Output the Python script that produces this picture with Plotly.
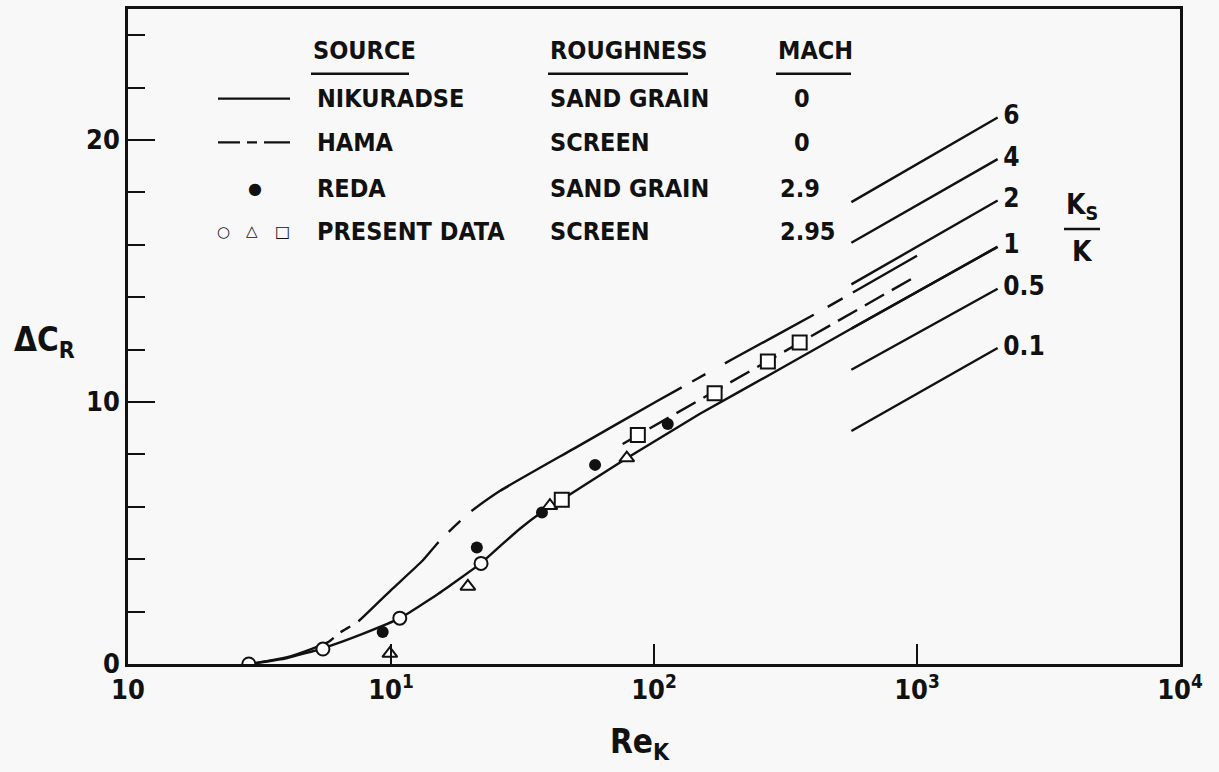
import plotly.graph_objects as go

# ---------------- data ----------------
nik_x = [2.9, 4, 5.5, 7.8, 10.8, 15, 22, 26, 31, 37.5, 45, 79, 149, 300, 555, 2020]
nik_y = [0, 0.22, 0.6, 1.15, 1.75, 2.65, 3.85, 4.5, 5.17, 5.8, 6.3, 7.86, 9.54, 11.25, 12.77, 15.92]

hama_x = [3.0, 4.0, 5.0, 5.8, 6.4, 7.5, 10, 13.2, 15, 17, 20, 26, 50, 102.5, 200, 400, 1000]
hama_y = [0.02, 0.25, 0.58, 0.85, 1.2, 1.62, 2.82, 3.95, 4.6, 5.15, 5.8, 6.61, 8.24, 10.03, 11.65, 13.3, 15.58]

fair_x = [76, 1000]
fair_y = [8.4, 14.82]

circ_x = [2.88, 5.51, 10.8, 22.0]
circ_y = [0, 0.57, 1.75, 3.84]
tri_x = [9.9, 19.6, 40.2, 78.8]
tri_y = [0.4, 2.96, 6.04, 7.86]
sq_x = [44.6, 86.8, 170, 271, 358]
sq_y = [6.27, 8.74, 10.33, 11.55, 12.27]
reda_x = [9.3, 21.2, 37.5, 59.7, 112.8]
reda_y = [1.22, 4.45, 5.78, 7.6, 9.16]

ks_labels = ["6", "4", "2", "1", "0.5", "0.1"]
ks_x = [563, 2026]
ks_y0 = [17.63, 16.08, 14.49, 12.8, 11.23, 8.89]
ks_y1 = [20.86, 19.27, 17.69, 15.92, 14.32, 12.06]

x_tickvals = [1, 10, 100, 1000, 10000]
x_ticktext = ["10", "10<sup>1</sup>", "10<sup>2</sup>", "10<sup>3</sup>", "10<sup>4</sup>"]
y_tickvals = [0, 10, 20]
y_ticktext = ["0", "10", "20"]

leg_headers = ["SOURCE", "ROUGHNESS", "MACH"]
leg_source = ["NIKURADSE", "HAMA", "REDA", "PRESENT DATA"]
leg_rough = ["SAND GRAIN", "SCREEN", "SAND GRAIN", "SCREEN"]
leg_mach = ["0", "0", "2.9", "2.95"]

# ---------------- style ----------------
W, H = 1219, 772
L, R, T, B = 128, 1180, 6, 664
FONT = "DejaVu Sans Condensed, DejaVu Sans, sans-serif"
INK = "#111111"
BG = "#f8f8f8"
LW = 2.4


def px(xp, yp):
    return (xp - L) / (R - L), (B - yp) / (B - T)


fig = go.Figure()

# Nikuradse (solid)
fig.add_trace(go.Scatter(x=nik_x, y=nik_y, mode="lines", name="Nikuradse",
                         line=dict(color=INK, width=LW, shape="spline", smoothing=0.4)))
# Hama (long - short - long)
fig.add_trace(go.Scatter(x=hama_x, y=hama_y, mode="lines", name="Hama",
                         line=dict(color=INK, width=LW, shape="spline", smoothing=0.4,
                                   dash="85px,9px,11px,10px,113px,14px,16px,15px,244px,12px,15px,22px,102px,16px,17px,12px,80px,60px")))
# fairing through present data (short dashes)
fig.add_trace(go.Scatter(x=fair_x, y=fair_y, mode="lines", name="Present data fairing",
                         line=dict(color=INK, width=LW, dash="22px,9px")))
# ks/k lines
for lab, y0, y1 in zip(ks_labels, ks_y0, ks_y1):
    fig.add_trace(go.Scatter(x=ks_x, y=[y0, y1], mode="lines", name="ks/k=" + lab,
                             line=dict(color=INK, width=LW)))
fig.add_trace(go.Scatter(x=[ks_x[1] * 1.05] * len(ks_labels), y=ks_y1, mode="text",
                         text=ks_labels, textposition="middle right",
                         textfont=dict(family=FONT, size=26, color=INK, weight="bold"),
                         name="ks/k labels"))

# markers
fig.add_trace(go.Scatter(x=reda_x, y=reda_y, mode="markers", name="Reda",
                         marker=dict(symbol="circle", size=12, color=INK)))
fig.add_trace(go.Scatter(x=circ_x, y=circ_y, mode="markers", name="Present circles",
                         marker=dict(symbol="circle", size=13, color="white", line=dict(color=INK, width=2))))
fig.add_trace(go.Scatter(x=tri_x, y=tri_y, mode="markers", name="Present triangles",
                         marker=dict(symbol="triangle-up", size=13, color="white", line=dict(color=INK, width=2))))
fig.add_trace(go.Scatter(x=sq_x, y=sq_y, mode="markers", name="Present squares",
                         marker=dict(symbol="square", size=14, color="white", line=dict(color=INK, width=2))))

ann = []
shapes = []


def text(xp, yp, s, size=25, xanchor="left", family=FONT):
    x, y = px(xp, yp)
    ann.append(dict(x=x, y=y, xref="paper", yref="paper", text=s, showarrow=False,
                    xanchor=xanchor, yanchor="middle",
                    font=dict(family=family, size=size, color=INK, weight="bold")))


def hline(x0p, x1p, yp, dash="solid", width=LW):
    x0, y = px(x0p, yp)
    x1, _ = px(x1p, yp)
    shapes.append(dict(type="line", xref="paper", yref="paper", x0=x0, x1=x1, y0=y, y1=y,
                       line=dict(color=INK, width=width, dash=dash)))


# legend block
hx = [311, 548, 776]
hw = [98, 140, 75]
for x0, w, h in zip(hx, hw, leg_headers):
    text(x0, 48, h)
    hline(x0, x0 + w, 71)
rows = [96, 140, 186, 230]
for yp, s, r, m in zip(rows, leg_source, leg_rough, leg_mach):
    text(315, yp, s)
    text(548, yp, r)
    text(792 if m == "0" else 778, yp, m)
hline(218, 290, 96)
hline(218, 290, 140, dash="22px,7px,10px,7px,30px")
text(255, 186, "●", size=16, xanchor="center", family="DejaVu Sans")
text(223, 230, "○", size=15, xanchor="center", family="DejaVu Sans")
text(252, 229, "△", size=15, xanchor="center", family="DejaVu Sans")
text(282, 230, "□", size=16, xanchor="center", family="DejaVu Sans")

# Ks/K
text(1082, 204, "K<sub>S</sub>", size=28, xanchor="center")
hline(1064, 1100, 227)
text(1082, 250, "K", size=28, xanchor="center")

# axis titles
text(44, 340, "ΔC<sub>R</sub>", size=33, xanchor="center")
text(640, 744, "Re<sub>K</sub>", size=33, xanchor="center")

fig.update_layout(
    width=W, height=H,
    margin=dict(l=L, r=W - R, t=T, b=H - B),
    paper_bgcolor=BG, plot_bgcolor=BG,
    showlegend=False,
    annotations=ann, shapes=shapes,
    font=dict(family=FONT, color=INK, size=26),
)
fig.update_xaxes(type="log", range=[0, 4], tickvals=x_tickvals, ticktext=x_ticktext,
                 ticks="inside", ticklen=20, tickwidth=2, tickcolor=INK,
                 showline=True, linecolor=INK, linewidth=2.5, mirror=True,
                 showgrid=False, zeroline=False,
                 tickfont=dict(family=FONT, size=27, color=INK, weight="bold"))
fig.update_yaxes(range=[0, 25], tickvals=y_tickvals, ticktext=y_ticktext,
                 ticks="inside", ticklen=27, tickwidth=2, tickcolor=INK,
                 minor=dict(dtick=2, ticks="inside", ticklen=17, tickwidth=2, tickcolor=INK, tick0=0),
                 showline=True, linecolor=INK, linewidth=2.5, mirror=True,
                 showgrid=False, zeroline=False,
                 tickfont=dict(family=FONT, size=27, color=INK, weight="bold"))

fig.write_html("out.html", config={"displayModeBar": False},
               post_script="document.body.style.margin='0px';")
